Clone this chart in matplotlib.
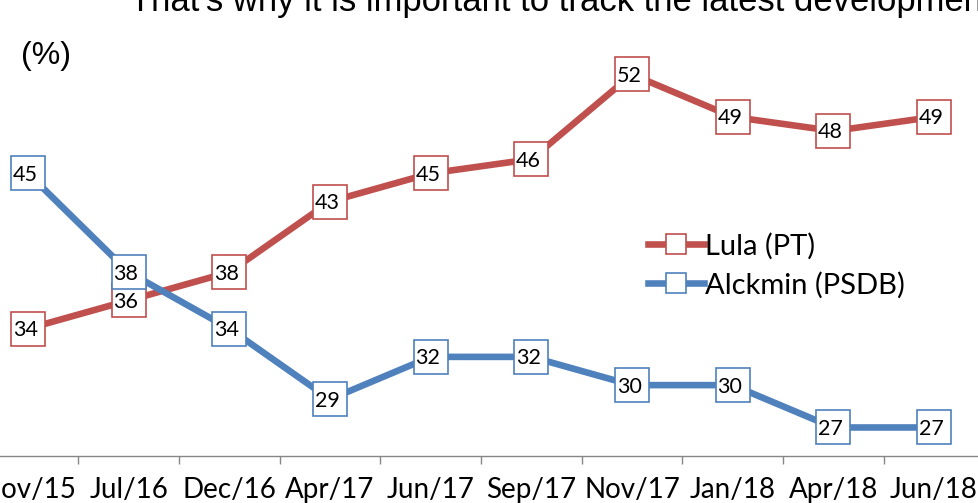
import numpy as np
import matplotlib
matplotlib.use("Agg")
import matplotlib.pyplot as plt

# data
months = ["Nov/15", "Jul/16", "Dec/16", "Apr/17", "Jun/17",
          "Sep/17", "Nov/17", "Jan/18", "Apr/18", "Jun/18"]
lula = [34, 36, 38, 43, 45, 46, 52, 49, 48, 49]
alckmin = [45, 38, 34, 29, 32, 32, 30, 30, 27, 27]
series_names = ["Lula (PT)", "Alckmin (PSDB)"]
title = "That's why it is important to track the latest developments"

red = "#C0504D"
blue = "#4F81BD"
grey = "#868686"
lab_font = "Lato"

fig = plt.figure(figsize=(9.79, 5.03), dpi=100)
ax = fig.add_axes([-0.0228, 0.094, 1.0282, 0.8421])

x = np.arange(len(months))
ln_red, = ax.plot(x, lula, color=red, lw=4.75, marker="s", ms=24.5,
                  mfc="white", mec=red, mew=1.2, solid_joinstyle="round",
                  label=series_names[0], zorder=3)
ln_blue, = ax.plot(x, alckmin, color=blue, lw=4.75, marker="s", ms=24.5,
                   mfc="white", mec=blue, mew=1.2, solid_joinstyle="round",
                   label=series_names[1], zorder=4)

for i, v in enumerate(lula):
    ax.annotate(str(v), (i, v), xytext=(-2, -1), textcoords="offset points",
                ha="center", va="center", fontsize=15.5, family=lab_font, zorder=3.5)
for i, v in enumerate(alckmin):
    ax.annotate(str(v), (i, v), xytext=(-2, -1), textcoords="offset points",
                ha="center", va="center", fontsize=15.5, family=lab_font, zorder=5)

ax.set_xlim(-0.5, len(months) - 0.5)
ax.set_ylim(25, 55)
ax.set_xticks(x)
ax.set_xticklabels(months, fontsize=20, family=lab_font)
ax.set_xticks(np.arange(0.5, len(months) - 1, 1), minor=True)
ax.tick_params(axis="x", which="major", length=0, pad=15)
ax.tick_params(axis="x", which="minor", length=5.5, width=1, color=grey)
ax.set_yticks([])
for s in ["left", "right", "top"]:
    ax.spines[s].set_visible(False)
ax.spines["bottom"].set_color(grey)
ax.spines["bottom"].set_linewidth(1)

leg = ax.legend(loc="upper left", bbox_to_anchor=(633 / 979, 1 - 218 / 503),
                bbox_transform=fig.transFigure, frameon=False, borderpad=0,
                handlelength=1.95, handletextpad=0.02, labelspacing=0.42,
                prop={"family": lab_font, "size": 21})
for h in leg.legend_handles:
    h.set_markersize(15)

# title fitted so the visible part runs off the right edge like the source
t = fig.text(130 / 979, 1 - 11 / 503, title, ha="left", va="baseline",
             fontsize=24, family="Liberation Sans")
fig.canvas.draw()
probe = fig.text(0, 0, title[:-2], fontsize=24, family="Liberation Sans")
w = probe.get_window_extent().width
probe.remove()
t.set_fontsize(24 * (982 - 130) / w)

fig.text(46 / 979, 1 - 56 / 503, "(%)", ha="center", va="center",
         fontsize=23, family="Liberation Sans")

fig.savefig("out.png", dpi=100)
